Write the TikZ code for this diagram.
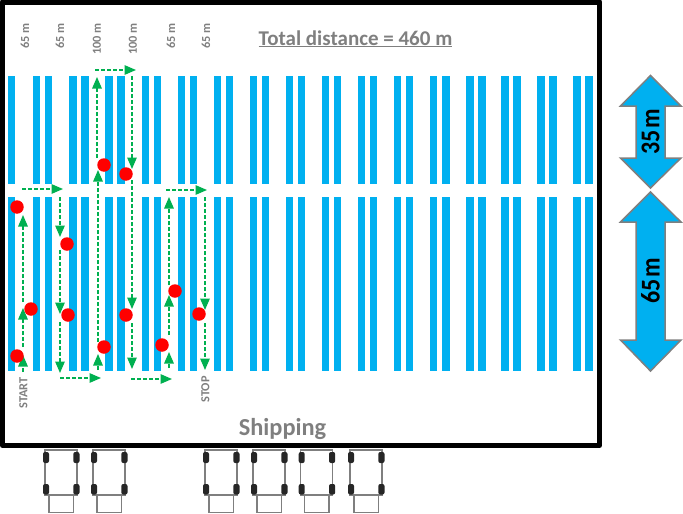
\documentclass[tikz,border=0pt]{standalone}
\usepackage{graphicx}
\usepackage{fontspec}
\setmainfont{Carlito}
\usetikzlibrary{arrows.meta}
\definecolor{rackblue}{HTML}{00B0F0}
\definecolor{routegreen}{HTML}{00B050}
\definecolor{labelgray}{HTML}{7F7F7F}
\definecolor{wheeldark}{HTML}{262626}
\tikzset{
  rack/.style={fill=rackblue,draw=none},
  route/.style={draw=routegreen,line width=1.5pt,dash pattern=on 4pt off 2pt,
    -{Triangle[length=11.5pt,width=9.5pt,fill=routegreen,sharp]}},
  pick/.style={circle,fill=red,draw=none,minimum size=13.5pt,inner sep=0pt},
  distlabel/.style={rotate=90,anchor=east,inner sep=0pt,text=labelgray,font=\fontsize{12.3}{14}\selectfont\bfseries},
  dimarrow/.style={fill=rackblue,draw=labelgray,line width=1.5pt,line join=miter},
  dimtext/.style={rotate=90,inner sep=0pt,font=\fontsize{24}{28}\selectfont\bfseries},
  truckline/.style={draw=labelgray,line width=1.5pt},
  wheel/.style={fill=wheeldark,draw=none,rounded corners=2pt}
}
\begin{document}
\begin{tikzpicture}[x=1pt,y=-1pt]
\useasboundingbox (0,0) rectangle (683,514);
% racks
\foreach \l/\r in {8/15,33/40,45/52,69/77,81/89,105/113,117/125,142/149,154/161,178/185,190/197,214/221,226/233,250/257,262/269,286/293,298/305,322/329,334/341,358/365,370/377,394/401,406/413,430/437,442/450,466/474,478/486,501/509,513/521,537/545,549/557,573/581,585/593}{
  \fill[rack] (\l,76) rectangle (\r,184);
  \fill[rack] (\l,197) rectangle (\r,371);
}
% frame
\draw[black,line width=5pt,line join=round] (2.5,2) rectangle (599.5,445.5);
% route
\foreach \n/\xa/\ya/\xb/\yb in {
  a/23/372/23/355, b/23/347/23/308, c/23/302/23/215, d/22/189/63/189,
  e/60/197/60/237, f/60/250/60/314, g/60/322/60/373, h/60/378/101/378,
  i/98/370/98/354, j/98/342/98/170, k/97/158/97/77, l/95/70/136/70,
  m/132/76/132/169, n/132/180/132/309, o/132/323/132/369, p/131/379/172/379,
  q/169/368/169/352, r/169/335/169/295, s/169/285/169/197, t/166/190/207/190,
  u/205/197/205/310, v/205/323/205/370}{
  \coordinate (s\n) at (\xa,\ya);
  \coordinate (e\n) at (\xb,\yb);
  \draw[route] (s\n) -- (e\n);
}
% picks
\foreach \n/\x/\y in {1/17/207,2/31/309,3/17/356,4/67/244,5/68/315,6/104/347,7/126/315,8/162/345,9/175/291,10/199/314,11/104/165,12/126/174}{
  \node[pick] (pick\n) at (\x,\y) {};
}
% distance labels
\node[distlabel] (d1) at (25,23) {65 m};
\node[distlabel] (d2) at (60,23) {65 m};
\node[distlabel] (d3) at (97,23) {100 m};
\node[distlabel] (d4) at (133,23) {100 m};
\node[distlabel] (d5) at (171,23) {65 m};
\node[distlabel] (d6) at (206,23) {65 m};
\node[distlabel] (start) at (23.5,377) {START};
\node[distlabel] (stop) at (205.5,376) {STOP};
% titles
\node[anchor=base,inner sep=0pt,text=labelgray,font=\fontsize{21}{24}\selectfont\bfseries] (total) at (355.5,45) {\underline{Total distance = 460 m}};
\node[anchor=base,inner sep=0pt,text=labelgray,font=\fontsize{24.4}{28}\selectfont\bfseries] (ship) at (282.5,435) {Shipping};
% dimension arrows
\draw[dimarrow] (650.5,75.5) -- (681,106) -- (665,106) -- (665,158) -- (681,158) -- (650.5,188) -- (620.5,158) -- (636,158) -- (636,106) -- (620.5,106) -- cycle;
\draw[dimarrow] (650.5,192) -- (681,222) -- (665,222) -- (665,340) -- (681,340) -- (650.5,371) -- (620.5,340) -- (636,340) -- (636,222) -- (620.5,222) -- cycle;
\node[dimtext] (l35) at (650.5,132) {\scalebox{1}[1.13]{\spaceskip=2pt 35 m}};
\node[dimtext] (l65) at (650.5,281) {\scalebox{1}[1.13]{\spaceskip=2pt 65 m}};
% trucks
\foreach \x in {45,93,205,253,300.7,350}{
  \begin{scope}[shift={(\x,0)}]
    \draw[truckline] (0,450) rectangle (32,495);
    \draw[truckline] (4,495) rectangle (28.3,512.7);
    \fill[wheel] (-2,452) rectangle (4,463);
    \fill[wheel] (28.3,452) rectangle (34.5,463);
    \fill[wheel] (-2,484) rectangle (4,494.5);
    \fill[wheel] (28.3,484) rectangle (34.5,494.5);
  \end{scope}
}
\end{tikzpicture}
\end{document}
